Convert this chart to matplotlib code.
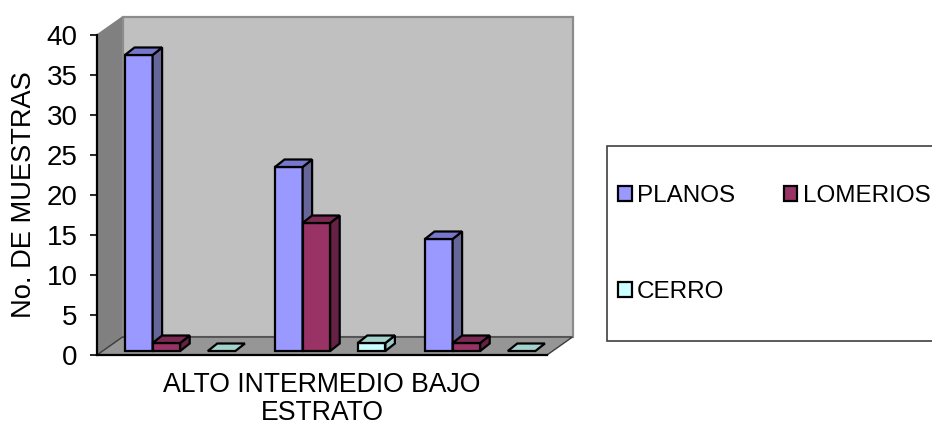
import matplotlib
matplotlib.use("Agg")
import matplotlib.pyplot as plt
from matplotlib.patches import Patch, Polygon, Rectangle

plt.rcParams['font.family'] = ['Liberation Sans', 'DejaVu Sans']

categorias = ["ALTO", "INTERMEDIO", "BAJO"]
planos = [37, 23, 14]
lomerios = [1, 16, 1]
cerro = [0, 1, 0]

# tamaño de la figura en pixeles
W, H = 932., 424.
PX_X = 1 / 150.  # unidades de x por pixel
PX_Y = 1 / 8.  # unidades de y por pixel


def cara(ax, puntos, color, lw=1.6):
    ax.add_patch(Polygon(puntos, closed=True, facecolor=color,
                         edgecolor='black', linewidth=lw, clip_on=False,
                         joinstyle='miter'))


def barra3d(ax, x, valor, colores):
    """
    Dibuja una barra con su cara frontal, lateral y superior
    """
    ancho = 27.6 * PX_X
    dx, dy = 9.5 * PX_X, 7.5 * PX_Y
    y0 = 4 * PX_Y
    y1 = y0 + valor
    frente, lado, arriba = colores
    if valor > 0:
        cara(ax, [(x, y0), (x + ancho, y0), (x + ancho, y1), (x, y1)], frente)
        cara(ax, [(x + ancho, y0), (x + ancho + dx, y0 + dy),
                  (x + ancho + dx, y1 + dy), (x + ancho, y1)], lado)
    cara(ax, [(x, y1), (x + ancho, y1), (x + ancho + dx, y1 + dy),
              (x + dx, y1 + dy)], arriba)


fig = plt.figure(figsize=(W / 100, H / 100), dpi=100, facecolor='white')
ax = fig.add_axes([97 / W, 1 - 355 / H, 450 / W, 320 / H])
ax.set_xlim(0, 3)
ax.set_ylim(0, 40)
ax.patch.set_visible(False)

# paredes y piso del grafico
px, py = 25.5 * PX_X, 18 * PX_Y
ax.add_patch(Polygon([(0, 0), (px, py), (px, 40 + py), (0, 40)], closed=True,
                     facecolor='#808080', edgecolor='#808080', clip_on=False,
                     zorder=0.5))
ax.add_patch(Polygon([(px, py), (3 + px, py), (3 + px, 40 + py), (px, 40 + py)],
                     closed=True, facecolor='#c0c0c0', edgecolor='#8c8c8c',
                     linewidth=1.6, clip_on=False, zorder=0.5))
ax.add_patch(Polygon([(0, 0), (3, 0), (3 + px, py), (px, py)], closed=True,
                     facecolor='#969696', edgecolor='#3c3c3c', linewidth=1.0,
                     clip_on=False, zorder=0.6))

colores_planos = ('#9999ff', '#666699', '#7777cc')
colores_lomerios = ('#993366', '#662244', '#7a2952')
colores_cerro = ('#ccffff', '#99cccc', '#a3d1cb')

for i in range(len(categorias)):
    inicio = i + 28 * PX_X
    paso = 27.6 * PX_X
    barra3d(ax, inicio, planos[i], colores_planos)
    barra3d(ax, inicio + paso, lomerios[i], colores_lomerios)
    # la serie vacia deja un hueco entre lomerios y cerro
    barra3d(ax, inicio + 3 * paso, cerro[i], colores_cerro)

for lado in ['top', 'right']:
    ax.spines[lado].set_visible(False)
for lado in ['left', 'bottom']:
    ax.spines[lado].set_linewidth(1.6)
    ax.spines[lado].set_zorder(5)

ax.set_yticks(range(0, 41, 5))
ax.tick_params(axis='y', labelsize=20, length=5, width=1.2, pad=9)
ax.set_xticks([1.5])
ax.set_xticklabels([" ".join(categorias)], fontsize=19.2)
ax.tick_params(axis='x', length=0, pad=12)
ax.set_xlabel("ESTRATO", fontsize=19.2, labelpad=1.5)
ax.set_ylabel("No. DE MUESTRAS", fontsize=19.6)
ax.yaxis.set_label_coords((37 - 97) / 450., 0.5)

# cuadro de la leyenda
fig.add_artist(Rectangle((607 / W, 1 - 341 / H), 340 / W, 195 / H,
                         transform=fig.transFigure, facecolor='white',
                         edgecolor='#404040', linewidth=1.2))
marcas = [Patch(facecolor=colores_planos[0], edgecolor='black', linewidth=1.6),
          Patch(facecolor=colores_cerro[0], edgecolor='black', linewidth=1.6),
          Patch(facecolor=colores_lomerios[0], edgecolor='black', linewidth=1.6)]
fig.legend(marcas, ["PLANOS", "CERRO", "LOMERIOS"], ncol=2, frameon=False,
           loc='center left', bbox_to_anchor=(618 / W, 1 - 244 / H),
           fontsize=17.5, handlelength=0.56, handleheight=0.56,
           handletextpad=0.22, labelspacing=3.05, columnspacing=2.0,
           borderpad=0, borderaxespad=0)

fig.savefig("out.png", dpi=100)
